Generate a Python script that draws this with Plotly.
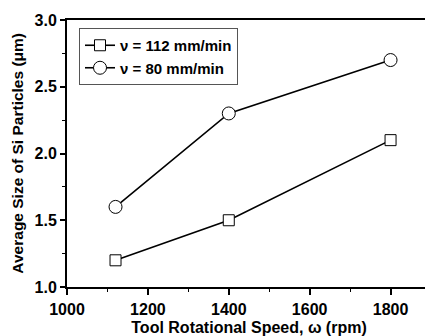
import plotly.graph_objects as go

speed = [1120, 1400, 1800]
size_v112 = [1.2, 1.5, 2.1]
size_v80 = [1.6, 2.3, 2.7]
names = ["<b>ν = 112 mm/min</b>", "<b>ν = 80 mm/min</b>"]
y_title = "<b>Average Size of Si Particles (μm)</b>"
x_title = "<b>Tool Rotational Speed, ω (rpm)</b>"

fig = go.Figure()
fig.add_trace(go.Scatter(
    x=speed, y=size_v112, mode="lines+markers", name=names[0],
    line=dict(color="black", width=1.6),
    marker=dict(symbol="square", size=11, color="white", line=dict(color="black", width=1)),
))
fig.add_trace(go.Scatter(
    x=speed, y=size_v80, mode="lines+markers", name=names[1],
    line=dict(color="black", width=1.6),
    marker=dict(symbol="circle", size=13, color="white", line=dict(color="black", width=1)),
))

# page body has an 8px default margin; figure sized to fill the rest of the window
tick_font = dict(family="Liberation Sans, Arial", size=16, color="black", weight="bold")
fig.update_layout(
    width=425, height=328,
    margin=dict(l=59, r=2, t=12, b=49),
    plot_bgcolor="white", paper_bgcolor="white",
    showlegend=True,
    legend=dict(
        x=0.033, y=0.97, xanchor="left", yanchor="top",
        bgcolor="white", bordercolor="#555555", borderwidth=1,
        font=dict(family="Liberation Sans, Arial", size=15, color="black"),
        tracegroupgap=0,
    ),
    xaxis=dict(
        range=[1000, 1900], tickvals=[1000, 1200, 1400, 1600, 1800],
        ticks="outside", ticklen=6, tickwidth=1.5, tickcolor="black",
        showline=True, linecolor="black", linewidth=2, mirror=True,
        showgrid=False, zeroline=False, automargin=False,
        tickfont=tick_font, ticklabelstandoff=1,
        minor=dict(dtick=100, ticks="outside", ticklen=3, tickcolor="black", tickwidth=1),
        title=dict(text=x_title,
                   font=dict(family="Liberation Sans, Arial", size=16, color="black"), standoff=17),
    ),
    yaxis=dict(
        range=[1.0, 3.0], tickvals=[1.0, 1.5, 2.0, 2.5, 3.0], ticktext=["1.0", "1.5", "2.0", "2.5", "3.0"],
        ticks="outside", ticklen=5, tickwidth=1.5, tickcolor="black",
        showline=True, linecolor="black", linewidth=2, mirror=True,
        showgrid=False, zeroline=False, automargin=False,
        tickfont=tick_font,
        minor=dict(dtick=0.25, ticks="outside", ticklen=3, tickcolor="black", tickwidth=1),
    ),
    annotations=[dict(
        text=y_title, textangle=-90, xref="paper", yref="paper",
        x=-0.137, y=0.5, xanchor="center", yanchor="middle", showarrow=False,
        font=dict(family="Liberation Sans, Arial", size=15.5, color="black"),
    )],
)
fig.write_html("out.html")
